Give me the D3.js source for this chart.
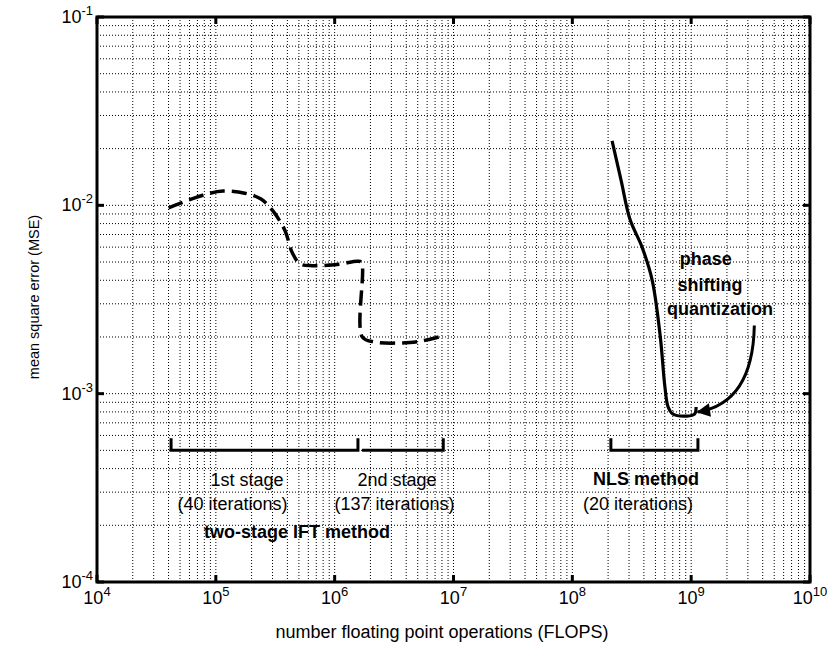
<!DOCTYPE html>
<html>
<head>
<meta charset="utf-8">
<script src="https://cdn.jsdelivr.net/npm/d3@7"></script>
<style>
  html, body { margin: 0; padding: 0; background: #fff; }
  text { font-family: "Liberation Sans", Arial, Helvetica, sans-serif; fill: #000; }
</style>
</head>
<body>
<svg id="chart" width="835" height="649"></svg>
<script>
// ---------- data ----------
const xTickExponents = [4, 5, 6, 7, 8, 9, 10];
const yTickExponents = [-4, -3, -2, -1];

// two-stage IFT method (dashed)
const iftFlops = [4.0e4, 6.0e4, 8.5e4, 1.15e5, 1.75e5, 2.4e5, 3.0e5, 3.8e5, 4.4e5, 5.1e5, 6.5e5, 1.1e6, 1.55e6, 1.68e6, 1.71e6, 2.2e6, 4.3e6, 6.0e6, 8.2e6];
const iftMse   = [9.7e-3, 1.07e-2, 1.15e-2, 1.19e-2, 1.16e-2, 1.08e-2, 9.4e-3, 7.4e-3, 5.6e-3, 4.9e-3, 4.78e-3, 4.87e-3, 5.05e-3, 4.98e-3, 2.0e-3, 1.88e-3, 1.87e-3, 1.93e-3, 2.03e-3];

// NLS method (solid)
const nlsFlops = [2.16e8, 2.57e8, 3.06e8, 3.86e8, 4.7e8, 5.5e8, 6.0e8, 6.4e8, 7.0e8, 9.2e8, 1.07e9, 1.1e9];
const nlsMse   = [2.2e-2, 1.36e-2, 8.4e-3, 6.0e-3, 4.0e-3, 2.0e-3, 1.1e-3, 8.5e-4, 7.8e-4, 7.6e-4, 7.8e-4, 8.5e-4];

// bracket annotations
const bracketStarts = [4.2e4, 1.7e6, 2.11e8];
const bracketEnds   = [1.57e6, 8.2e6, 1.14e9];
const bracketLeftTick  = [true, false, true];
const bracketRightTick = [true, true, true];
const bracketLevel = 5.0e-4;
const bracketTop = 5.8e-4;

// annotation texts
const labelTexts  = ["1st stage", "(40 iterations)", "2nd stage", "(137 iterations)", "two-stage IFT method", "NLS method", "(20 iterations)", "phase", "shifting", "quantization"];
const labelFlops  = [1.83e5, 1.38e5, 3.35e6, 3.19e6, 4.82e5, 4.17e8, 3.57e8, 1.33e9, 1.44e9, 1.75e9];
const labelMse    = [3.23e-4, 2.41e-4, 3.23e-4, 2.41e-4, 1.71e-4, 3.27e-4, 2.41e-4, 4.82e-3, 3.51e-3, 2.61e-3];
const labelBold   = [false, false, false, false, true, true, false, true, true, true];

// arrow (start, control, end)
const arrowFlops = [3.4e9, 3.3e9, 1.14e9];
const arrowMse   = [2.3e-3, 8.9e-4, 8.0e-4];

// ---------- layout ----------
const svg = d3.select("#chart");
const margin = { left: 97, top: 17, right: 25, bottom: 67 };
const W = 835, H = 649;
const innerW = W - margin.left - margin.right;
const innerH = H - margin.top - margin.bottom;

const x = d3.scaleLog().domain([1e4, 1e10]).range([margin.left, margin.left + innerW]);
const y = d3.scaleLog().domain([1e-4, 1e-1]).range([margin.top + innerH, margin.top]);

// ---------- grid ----------
const grid = svg.append("g").attr("class", "grid");
const xGridVals = [];
for (let e = 4; e < 10; e++) for (let m = 1; m <= 9; m++) xGridVals.push(m * Math.pow(10, e));
xGridVals.push(1e10);
const yGridVals = [];
for (let e = -4; e < -1; e++) for (let m = 1; m <= 9; m++) yGridVals.push(m * Math.pow(10, e));
yGridVals.push(1e-1);

grid.selectAll("line.vx").data(xGridVals).join("line")
  .attr("x1", d => x(d)).attr("x2", d => x(d))
  .attr("y1", margin.top).attr("y2", margin.top + innerH)
  .attr("stroke", "#000").attr("stroke-width", 1).attr("stroke-dasharray", "1,2");
grid.selectAll("line.hy").data(yGridVals).join("line")
  .attr("y1", d => y(d)).attr("y2", d => y(d))
  .attr("x1", margin.left).attr("x2", margin.left + innerW)
  .attr("stroke", "#000").attr("stroke-width", 1).attr("stroke-dasharray", "1,2");

// ---------- frame & ticks ----------
svg.append("rect")
  .attr("x", margin.left).attr("y", margin.top)
  .attr("width", innerW).attr("height", innerH)
  .attr("fill", "none").attr("stroke", "#000").attr("stroke-width", 3);

const majorX = xTickExponents.map(e => Math.pow(10, e));
const majorY = yTickExponents.map(e => Math.pow(10, e));
svg.selectAll("line.tbx").data(majorX).join("line")
  .attr("x1", d => x(d)).attr("x2", d => x(d))
  .attr("y1", margin.top + innerH).attr("y2", margin.top + innerH - 7)
  .attr("stroke", "#000").attr("stroke-width", 3);
svg.selectAll("line.ttx").data(majorX).join("line")
  .attr("x1", d => x(d)).attr("x2", d => x(d))
  .attr("y1", margin.top).attr("y2", margin.top + 7)
  .attr("stroke", "#000").attr("stroke-width", 3);
svg.selectAll("line.tly").data(majorY).join("line")
  .attr("y1", d => y(d)).attr("y2", d => y(d))
  .attr("x1", margin.left).attr("x2", margin.left + 7)
  .attr("stroke", "#000").attr("stroke-width", 3);
svg.selectAll("line.try").data(majorY).join("line")
  .attr("y1", d => y(d)).attr("y2", d => y(d))
  .attr("x1", margin.left + innerW).attr("x2", margin.left + innerW - 7)
  .attr("stroke", "#000").attr("stroke-width", 3);

// tick labels
const xl = svg.selectAll("text.xl").data(xTickExponents).join("text")
  .attr("x", d => x(Math.pow(10, d))).attr("y", margin.top + innerH + 22)
  .attr("text-anchor", "middle").attr("font-size", 18);
xl.append("tspan").text("10");
xl.append("tspan").attr("dy", -8).attr("font-size", 13).text(d => d);

const yl = svg.selectAll("text.yl").data(yTickExponents).join("text")
  .attr("x", margin.left - 4).attr("y", d => y(Math.pow(10, d)) + 6)
  .attr("text-anchor", "end").attr("font-size", 18);
yl.append("tspan").text("10");
yl.append("tspan").attr("dy", -8).attr("font-size", 13).text(d => "-" + Math.abs(d));

// axis titles
svg.append("text")
  .attr("x", 442).attr("y", 638)
  .attr("text-anchor", "middle").attr("font-size", 18)
  .text("number floating point operations (FLOPS)");
svg.append("text")
  .attr("transform", `translate(39, 297) rotate(-90)`)
  .attr("text-anchor", "middle").attr("font-size", 14.5)
  .text("mean square error (MSE)");

// ---------- curves ----------
const line = d3.line().x(d => x(d[0])).y(d => y(d[1])).curve(d3.curveCatmullRom.alpha(0.5));
const iftData = iftFlops.map((f, i) => [f, iftMse[i]]);
const nlsData = nlsFlops.map((f, i) => [f, nlsMse[i]]);

svg.append("path").attr("d", line(iftData))
  .attr("fill", "none").attr("stroke", "#000").attr("stroke-width", 3.5)
  .attr("stroke-dasharray", "15,7");
svg.append("path").attr("d", line(nlsData))
  .attr("fill", "none").attr("stroke", "#000").attr("stroke-width", 3.2)
  .attr("stroke-linejoin", "round");

// ---------- brackets ----------
bracketStarts.forEach((s, i) => {
  const x0 = x(s), x1 = x(bracketEnds[i]), yl0 = y(bracketLevel), yt = y(bracketTop);
  let d = "";
  if (bracketLeftTick[i]) d += `M${x0},${yt}L${x0},${yl0}`; else d += `M${x0},${yl0}`;
  d += `L${x1},${yl0}`;
  if (bracketRightTick[i]) d += `L${x1},${yt}`;
  svg.append("path").attr("d", d).attr("fill", "none")
    .attr("stroke", "#000").attr("stroke-width", 3);
});

// ---------- labels ----------
labelTexts.forEach((t, i) => {
  svg.append("text")
    .attr("x", x(labelFlops[i])).attr("y", y(labelMse[i]))
    .attr("text-anchor", "middle").attr("font-size", 18)
    .attr("font-weight", labelBold[i] ? "bold" : "normal")
    .text(t);
});

// ---------- arrow ----------
svg.append("defs").append("marker")
  .attr("id", "ah").attr("viewBox", "0 0 10 10").attr("refX", 9).attr("refY", 5)
  .attr("markerWidth", 6).attr("markerHeight", 4.5).attr("orient", "auto")
  .attr("markerUnits", "strokeWidth")
  .append("path").attr("d", "M0,0L10,5L0,10Z").attr("fill", "#000");
const ap = arrowFlops.map((f, i) => [x(f), y(arrowMse[i])]);
svg.append("path")
  .attr("d", `M${ap[0][0]},${ap[0][1]}Q${ap[1][0]},${ap[1][1]} ${ap[2][0]},${ap[2][1]}`)
  .attr("fill", "none").attr("stroke", "#000").attr("stroke-width", 3)
  .attr("marker-end", "url(#ah)");
</script>
</body>
</html>
